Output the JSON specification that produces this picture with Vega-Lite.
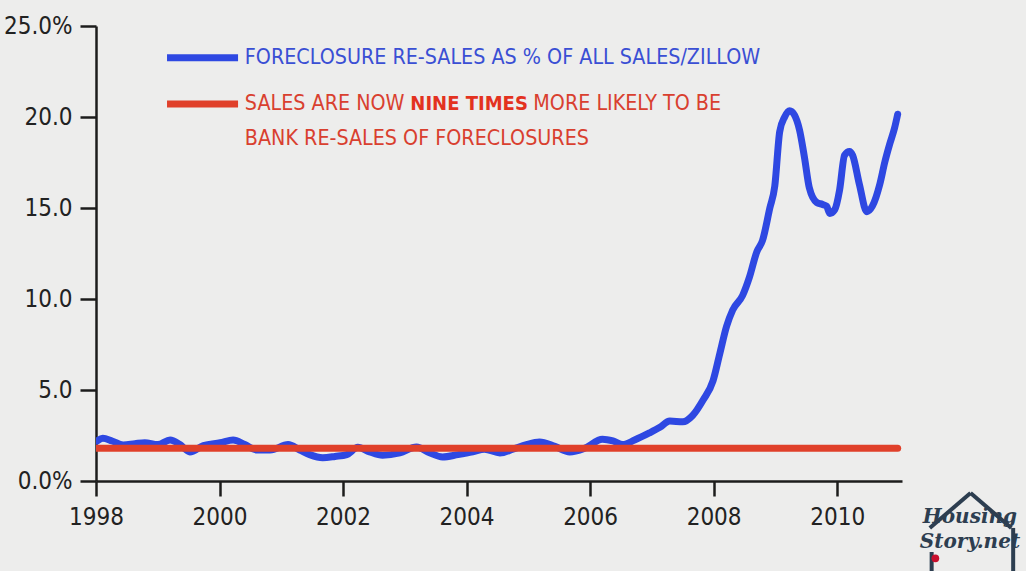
{
  "$schema": "https://vega.github.io/schema/vega-lite/v6.json",
  "width": 806,
  "height": 455,
  "autosize": "none",
  "padding": {"left": 96, "top": 26, "right": 124, "bottom": 90},
  "background": "#ededec",
  "config": {"view": {"stroke": null}, "font": "DejaVu Sans Condensed"},
  "datasets": {
    "zillow": [
      {"year": 1998.02, "pct": 2.2}, {"year": 1998.11, "pct": 2.35}, {"year": 1998.26, "pct": 2.2},
      {"year": 1998.44, "pct": 1.98}, {"year": 1998.63, "pct": 2.05}, {"year": 1998.79, "pct": 2.1},
      {"year": 1999.0, "pct": 2.0}, {"year": 1999.2, "pct": 2.25}, {"year": 1999.36, "pct": 2.0},
      {"year": 1999.52, "pct": 1.6}, {"year": 1999.74, "pct": 1.95}, {"year": 2000.01, "pct": 2.1},
      {"year": 2000.22, "pct": 2.25}, {"year": 2000.41, "pct": 2.0}, {"year": 2000.61, "pct": 1.7},
      {"year": 2000.82, "pct": 1.7}, {"year": 2001.11, "pct": 2.0}, {"year": 2001.3, "pct": 1.7},
      {"year": 2001.46, "pct": 1.45}, {"year": 2001.67, "pct": 1.28}, {"year": 2001.87, "pct": 1.35},
      {"year": 2002.06, "pct": 1.45}, {"year": 2002.24, "pct": 1.85}, {"year": 2002.43, "pct": 1.6},
      {"year": 2002.64, "pct": 1.42}, {"year": 2002.92, "pct": 1.55}, {"year": 2003.19, "pct": 1.87},
      {"year": 2003.4, "pct": 1.55}, {"year": 2003.61, "pct": 1.32}, {"year": 2003.86, "pct": 1.45},
      {"year": 2004.1, "pct": 1.6}, {"year": 2004.29, "pct": 1.75}, {"year": 2004.54, "pct": 1.54},
      {"year": 2004.75, "pct": 1.75}, {"year": 2004.97, "pct": 2.0}, {"year": 2005.18, "pct": 2.14},
      {"year": 2005.43, "pct": 1.9}, {"year": 2005.67, "pct": 1.6}, {"year": 2005.91, "pct": 1.8},
      {"year": 2006.2, "pct": 2.3}, {"year": 2006.37, "pct": 2.2}, {"year": 2006.53, "pct": 2.0},
      {"year": 2006.72, "pct": 2.25}, {"year": 2006.96, "pct": 2.64}, {"year": 2007.13, "pct": 2.95},
      {"year": 2007.29, "pct": 3.3}, {"year": 2007.5, "pct": 3.25}, {"year": 2007.66, "pct": 3.6},
      {"year": 2007.83, "pct": 4.45}, {"year": 2007.99, "pct": 5.5}, {"year": 2008.1, "pct": 7.0},
      {"year": 2008.21, "pct": 8.5}, {"year": 2008.31, "pct": 9.4}, {"year": 2008.47, "pct": 10.2},
      {"year": 2008.58, "pct": 11.2}, {"year": 2008.7, "pct": 12.6}, {"year": 2008.79, "pct": 13.2},
      {"year": 2008.91, "pct": 15.0}, {"year": 2008.99, "pct": 16.2}, {"year": 2009.07, "pct": 19.2},
      {"year": 2009.15, "pct": 20.0}, {"year": 2009.23, "pct": 20.35}, {"year": 2009.31, "pct": 20.1},
      {"year": 2009.39, "pct": 19.3}, {"year": 2009.47, "pct": 17.8}, {"year": 2009.55, "pct": 16.1},
      {"year": 2009.67, "pct": 15.3}, {"year": 2009.76, "pct": 15.2}, {"year": 2009.83, "pct": 15.1},
      {"year": 2009.88, "pct": 14.7}, {"year": 2009.96, "pct": 14.9}, {"year": 2010.04, "pct": 16.0},
      {"year": 2010.12, "pct": 17.9}, {"year": 2010.2, "pct": 18.1}, {"year": 2010.25, "pct": 17.9},
      {"year": 2010.36, "pct": 16.3}, {"year": 2010.48, "pct": 14.8}, {"year": 2010.57, "pct": 15.1},
      {"year": 2010.69, "pct": 16.3}, {"year": 2010.77, "pct": 17.5}, {"year": 2010.85, "pct": 18.5},
      {"year": 2010.93, "pct": 19.4}, {"year": 2010.98, "pct": 20.15}
    ],
    "bank": [
      {"year": 1998.0, "pct": 1.8}, {"year": 2010.98, "pct": 1.8}
    ],
    "one": [{}]
  },
  "layer": [
    {
      "data": {"name": "zillow"},
      "mark": {"type": "line", "color": "#2e48e2", "strokeWidth": 7, "interpolate": "monotone", "strokeCap": "round", "strokeJoin": "round", "clip": true},
      "encoding": {
        "x": {"field": "year", "type": "quantitative",
          "scale": {"domain": [1998, 2011.05], "nice": false, "zero": false},
          "axis": {"values": [1998, 2000, 2002, 2004, 2006, 2008, 2010], "format": "d", "title": null, "grid": false,
            "domainColor": "#1c1c1c", "domainWidth": 2.5, "tickColor": "#1c1c1c", "tickWidth": 2.5, "tickSize": 15,
            "labelFontSize": 24, "labelColor": "#222222", "labelPadding": 9, "labelFlush": false}},
        "y": {"field": "pct", "type": "quantitative",
          "scale": {"domain": [0, 25], "nice": false},
          "axis": {"values": [0, 5, 10, 15, 20, 25], "title": null, "grid": false,
            "labelExpr": "datum.value == 0 ? '0.0%' : datum.value == 25 ? '25.0%' : format(datum.value, '.1f')",
            "domainColor": "#1c1c1c", "domainWidth": 2.5, "tickColor": "#1c1c1c", "tickWidth": 2.5, "tickSize": 16,
            "labelFontSize": 24, "labelColor": "#222222", "labelPadding": 8, "labelFlush": false}}
      }
    },
    {
      "data": {"name": "bank"},
      "mark": {"type": "line", "color": "#e0402a", "strokeWidth": 7, "strokeCap": "round", "clip": true},
      "encoding": {
        "x": {"field": "year", "type": "quantitative"},
        "y": {"field": "pct", "type": "quantitative"}
      }
    },
    {
      "data": {"name": "one"},
      "mark": {"type": "rule", "color": "#2e48e2", "strokeWidth": 7},
      "encoding": {"x": {"datum": 1999.15}, "x2": {"datum": 2000.3}, "y": {"datum": 23.25}}
    },
    {
      "data": {"name": "one"},
      "mark": {"type": "rule", "color": "#e0402a", "strokeWidth": 7},
      "encoding": {"x": {"datum": 1999.15}, "x2": {"datum": 2000.3}, "y": {"datum": 20.72}}
    },
    {
      "data": {"name": "one"},
      "mark": {"type": "text", "text": "FORECLOSURE RE-SALES AS % OF ALL SALES/ZILLOW", "align": "left", "baseline": "middle", "fontSize": 21.3, "color": "#3a4fd4"},
      "encoding": {"x": {"datum": 2000.41}, "y": {"datum": 23.25}}
    },
    {
      "data": {"name": "one"},
      "mark": {"type": "text", "text": "SALES ARE NOW", "align": "left", "baseline": "middle", "fontSize": 21.3, "color": "#d9402f"},
      "encoding": {"x": {"datum": 2000.41}, "y": {"datum": 20.72}}
    },
    {
      "data": {"name": "one"},
      "mark": {"type": "text", "text": "NINE TIMES", "align": "left", "baseline": "middle", "fontSize": 20, "fontWeight": "bold", "color": "#e3321f"},
      "encoding": {"x": {"datum": 2003.09}, "y": {"datum": 20.72}}
    },
    {
      "data": {"name": "one"},
      "mark": {"type": "text", "text": "MORE LIKELY TO BE", "align": "left", "baseline": "middle", "fontSize": 21.3, "color": "#d9402f"},
      "encoding": {"x": {"datum": 2005.08}, "y": {"datum": 20.72}}
    },
    {
      "data": {"name": "one"},
      "mark": {"type": "text", "text": "BANK RE-SALES OF FORECLOSURES", "align": "left", "baseline": "middle", "fontSize": 21.3, "color": "#d9402f"},
      "encoding": {"x": {"datum": 2000.41}, "y": {"datum": 18.78}}
    },
    {
      "data": {"name": "one"},
      "mark": {"type": "rule", "color": "#2d3e50", "strokeWidth": 4},
      "encoding": {"x": {"datum": 2011.5}, "y": {"datum": -2.58}, "x2": {"datum": 2012.16}, "y2": {"datum": -0.66}}
    },
    {
      "data": {"name": "one"},
      "mark": {"type": "rule", "color": "#2d3e50", "strokeWidth": 4},
      "encoding": {"x": {"datum": 2012.16}, "y": {"datum": -0.66}, "x2": {"datum": 2012.82}, "y2": {"datum": -2.58}}
    },
    {
      "data": {"name": "one"},
      "mark": {"type": "rule", "color": "#2d3e50", "strokeWidth": 4},
      "encoding": {"x": {"datum": 2011.53}, "y": {"datum": -3.9}, "y2": {"datum": -5.0}}
    },
    {
      "data": {"name": "one"},
      "mark": {"type": "rule", "color": "#2d3e50", "strokeWidth": 4},
      "encoding": {"x": {"datum": 2012.85}, "y": {"datum": -2.58}, "y2": {"datum": -5.0}}
    },
    {
      "data": {"name": "one"},
      "mark": {"type": "point", "filled": true, "color": "#c8102e", "size": 60, "opacity": 1},
      "encoding": {"x": {"datum": 2011.59}, "y": {"datum": -4.25}}
    },
    {
      "data": {"name": "one"},
      "mark": {"type": "text", "text": "Housing", "align": "center", "baseline": "middle", "font": "DejaVu Serif", "fontSize": 20, "fontWeight": "bold", "fontStyle": "italic", "color": "#2d3e50"},
      "encoding": {"x": {"datum": 2012.15}, "y": {"datum": -1.98}}
    },
    {
      "data": {"name": "one"},
      "mark": {"type": "text", "text": "Story.net", "align": "center", "baseline": "middle", "font": "DejaVu Serif", "fontSize": 20, "fontWeight": "bold", "fontStyle": "italic", "color": "#2d3e50"},
      "encoding": {"x": {"datum": 2012.15}, "y": {"datum": -3.36}}
    }
  ]
}
